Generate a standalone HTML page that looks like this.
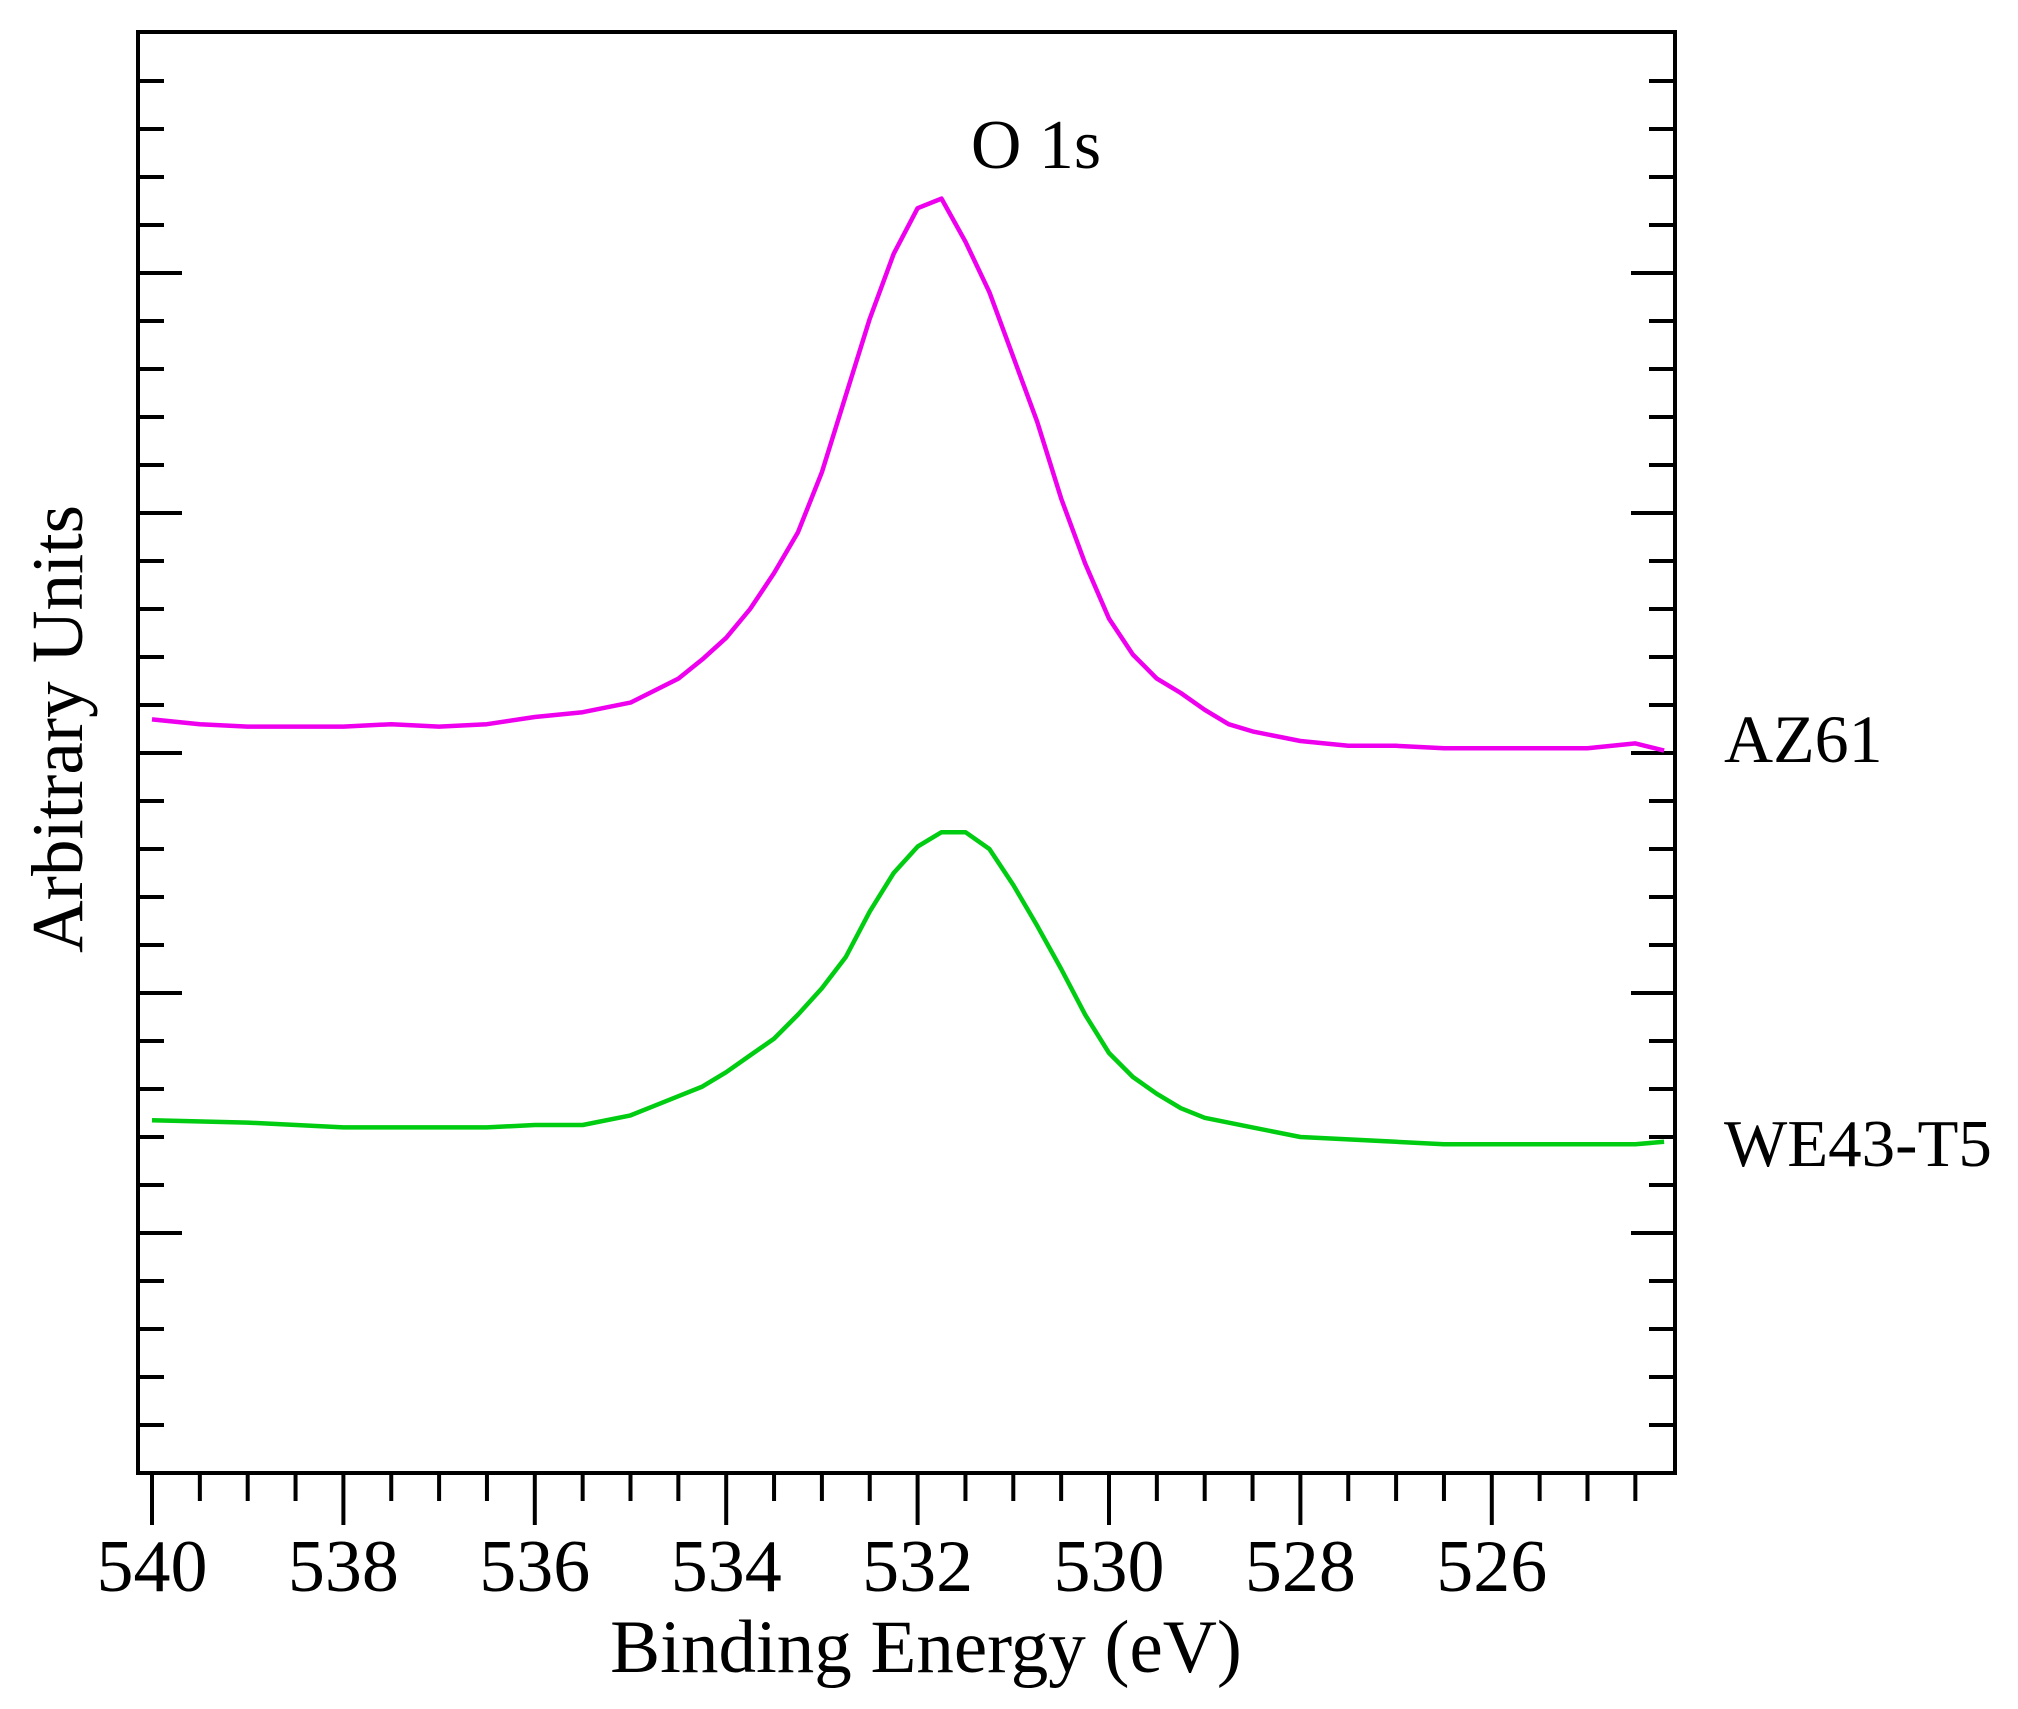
<!DOCTYPE html>
<html><head><meta charset="utf-8"><style>
html,body{margin:0;padding:0;background:#fff}
svg{display:block}
text{font-family:"Liberation Serif",serif;fill:#000}
</style></head><body>
<svg id="chart" width="2018" height="1709" viewBox="0 0 2018 1709" xmlns="http://www.w3.org/2000/svg">
<g id="ticks"></g>
<g id="series"></g>
<rect x="138" y="32" width="1537" height="1441" fill="none" stroke="#000" stroke-width="4"/>
<g id="xlabels"></g>
<text x="926" y="1672" font-size="75" text-anchor="middle">Binding Energy (eV)</text>
<text x="82" y="729" font-size="73" text-anchor="middle" transform="rotate(-90 82 729)">Arbitrary Units</text>
<text x="1036" y="168" font-size="70" text-anchor="middle">O 1s</text>
<text x="1724" y="762" font-size="68">AZ61</text>
<text x="1724" y="1166" font-size="67">WE43-T5</text>
</svg>
<script>
const energies = [540,539.5,539,538.5,538,537.5,537,536.5,536,535.5,535,534.5,534.25,534,533.75,533.5,533.25,533,532.75,532.5,532.25,532,531.75,531.5,531.25,531,530.75,530.5,530.25,530,529.75,529.5,529.25,529,528.75,528.5,528,527.5,527,526.5,526,525.5,525,524.5,524.2];
const az61 = [3.14,3.12,3.11,3.11,3.11,3.12,3.11,3.12,3.15,3.17,3.21,3.31,3.39,3.48,3.60,3.75,3.92,4.17,4.49,4.81,5.08,5.27,5.31,5.13,4.92,4.65,4.38,4.06,3.79,3.56,3.41,3.31,3.25,3.18,3.12,3.09,3.05,3.03,3.03,3.02,3.02,3.02,3.02,3.04,3.01];
const energiesWE = [540,539,538,537,536.5,536,535.5,535,534.75,534.5,534.25,534,533.75,533.5,533.25,533,532.75,532.5,532.25,532,531.75,531.5,531.25,531,530.75,530.5,530.25,530,529.75,529.5,529.25,529,528.5,528,527.5,527,526.5,526,525.5,525,524.5,524.2];
const we43 = [1.47,1.46,1.44,1.44,1.44,1.45,1.45,1.49,1.53,1.57,1.61,1.67,1.74,1.81,1.91,2.02,2.15,2.34,2.50,2.61,2.67,2.67,2.60,2.45,2.28,2.10,1.91,1.75,1.65,1.58,1.52,1.48,1.44,1.40,1.39,1.38,1.37,1.37,1.37,1.37,1.37,1.38];
const xTickLabels = [540,538,536,534,532,530,528,526];

const NS='http://www.w3.org/2000/svg';
const X0=152, PX_PER_EV=95.7, YB=1473, PX_PER_U=240;
function xs(e){return X0+(540-e)*PX_PER_EV;}
function ys(v){return YB-v*PX_PER_U;}
function mk(tag,attrs,parent){const el=document.createElementNS(NS,tag);for(const k in attrs)el.setAttribute(k,attrs[k]);parent.appendChild(el);return el;}

const tg=document.getElementById('ticks');
for(let i=0;i<=31;i++){
  const e=540-i*0.5; const x=xs(e); if(x>1673)break;
  const major=(i%4===0);
  const t=mk('line',{x1:x,y1:YB,x2:x,y2:YB+(major?52:28),stroke:'#000','stroke-width':4},tg);
  
  
}
for(let i=1;i<30;i++){
  const v=i*0.2; const y=ys(v); if(y<36)break;
  const major=(i%5===0); const len=major?44:26;
  const l=mk('line',{x1:138,y1:y,x2:138+len,y2:y,stroke:'#000','stroke-width':4},tg);
  
  
  const r=mk('line',{x1:1675,y1:y,x2:1675-len,y2:y,stroke:'#000','stroke-width':4},tg);
  
  
}
const xl=document.getElementById('xlabels');
xTickLabels.forEach(v=>{
  const t=mk('text',{x:xs(v),y:1591,'font-size':74,'text-anchor':'middle'},xl);
  t.textContent=v;
  
  
});
const sg=document.getElementById('series');
function line(ex,vals,color,name){
  const d=vals.map((v,i)=>(i?'L':'M')+xs(ex[i]).toFixed(1)+' '+ys(v).toFixed(1)).join(' ');
  const p=mk('path',{d:d,fill:'none',stroke:color,'stroke-width':4.5,'stroke-linejoin':'round'},sg);
  
  
}
line(energies,az61,'#ee00ee','az61-line');
line(energiesWE,we43,'#00cc11','we43-t5-line');
</script>
</body></html>
